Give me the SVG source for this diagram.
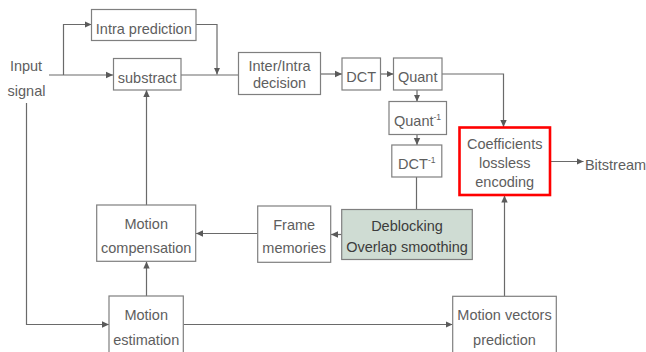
<svg xmlns="http://www.w3.org/2000/svg" width="646" height="352" viewBox="0 0 646 352">
  <style>
    .box { fill: #ffffff; stroke: #7f7f7f; stroke-width: 1.2; }
    .hl { fill: #ffffff; stroke: #ff0000; stroke-width: 2.6; }
    .filt { fill: #cfdcd3; stroke: #7f7f7f; stroke-width: 1.2; }
    .wire { fill: none; stroke: #6a6a6a; stroke-width: 1.2; }
    .arr { marker-end: url(#ah); }
    text { font-family: "Liberation Sans", Arial, sans-serif; font-size: 14.5px; fill: #5e5e5e; text-anchor: middle; }
    .dark { fill: #3c3c3c; }
    .sup { font-size: 8.5px; }
  </style>
  <defs>
    <marker id="ah" markerUnits="userSpaceOnUse" markerWidth="8" markerHeight="8" refX="7" refY="4" orient="auto">
      <path d="M0,0.8 L7,4 L0,7.2 Z" fill="#5a5a5a"/>
    </marker>
  </defs>
  <rect width="646" height="352" fill="#ffffff"/>

  <!-- connectors -->
  <g id="connectors">
    <!-- input signal to subtract and intra prediction -->
    <path class="wire arr" d="M49,75 H113"/>
    <path class="wire arr" d="M63.5,75 V24.5 H91.5"/>
    <!-- intra prediction joins the main path -->
    <path class="wire arr" d="M196,24.5 H217 V74.5"/>
    <path class="wire" d="M181,75 H238.5"/>
    <!-- transform chain -->
    <path class="wire arr" d="M320.5,74 H342"/>
    <path class="wire arr" d="M380.5,74 H393.5"/>
    <path class="wire arr" d="M442,74 H503.5 V127"/>
    <path class="wire arr" d="M417,90 V101.5"/>
    <path class="wire arr" d="M417,134.5 V145"/>
    <path class="wire" d="M416.5,177 V209.5"/>
    <!-- reconstruction loop -->
    <path class="wire arr" d="M341.5,234.5 H331"/>
    <path class="wire arr" d="M257.5,233.5 H196"/>
    <path class="wire arr" d="M146.5,205 V90"/>
    <path class="wire arr" d="M146.5,296 V261.5"/>
    <!-- motion estimation inputs/outputs -->
    <path class="wire arr" d="M26.5,103 V324.5 H109"/>
    <path class="wire arr" d="M183.5,324.5 H452.5"/>
    <path class="wire arr" d="M504.5,296 V195.5"/>
    <!-- entropy coder output -->
    <path class="wire arr" d="M550,161.5 H583.5"/>
  </g>

  <g id="input">
    <text x="26" y="71">Input</text>
    <text x="26.5" y="95.5">signal</text>
  </g>

  <g id="intra-prediction">
    <rect class="box" x="91.5" y="9.5" width="104.5" height="31"/>
    <text x="143.8" y="33.5">Intra prediction</text>
  </g>

  <g id="substract">
    <rect class="box" x="113.5" y="58.5" width="67.5" height="31.5"/>
    <text x="147.2" y="82.8">substract</text>
  </g>

  <g id="inter-intra-decision">
    <rect class="box" x="238.5" y="52.5" width="82" height="42"/>
    <text x="279.5" y="71">Inter/Intra</text>
    <text x="279.5" y="88">decision</text>
  </g>

  <g id="dct">
    <rect class="box" x="342" y="58" width="38.5" height="32"/>
    <text x="361.2" y="82">DCT</text>
  </g>

  <g id="quant">
    <rect class="box" x="393.5" y="58" width="48.5" height="32"/>
    <text x="417.7" y="82">Quant</text>
  </g>

  <g id="inverse-quant">
    <rect class="box" x="389" y="101.5" width="57.5" height="33"/>
    <text x="417.5" y="126.3">Quant<tspan class="sup" dy="-6">-1</tspan></text>
  </g>

  <g id="inverse-dct">
    <rect class="box" x="391.8" y="145" width="50" height="32"/>
    <text x="416.8" y="168.5">DCT<tspan class="sup" dy="-6">-1</tspan></text>
  </g>

  <g id="coefficients-lossless-encoding">
    <rect class="hl" x="459.5" y="127.5" width="90.5" height="67.5"/>
    <text x="504.7" y="148.5">Coefficients</text>
    <text x="504.7" y="167.5">lossless</text>
    <text x="504.7" y="186.7">encoding</text>
  </g>

  <g id="bitstream">
    <text x="615.5" y="169.5">Bitstream</text>
  </g>

  <g id="deblocking">
    <rect class="filt" x="341.7" y="209.5" width="130.6" height="50"/>
    <text class="dark" x="407" y="231">Deblocking</text>
    <text class="dark" x="407" y="251.7">Overlap smoothing</text>
  </g>

  <g id="frame-memories">
    <rect class="box" x="257.7" y="206" width="73" height="56.3"/>
    <text x="294.2" y="230">Frame</text>
    <text x="294.2" y="253.3">memories</text>
  </g>

  <g id="motion-compensation">
    <rect class="box" x="96.7" y="205" width="99" height="56.3"/>
    <text x="146.2" y="229.3">Motion</text>
    <text x="146.2" y="253.3">compensation</text>
  </g>

  <g id="motion-estimation">
    <rect class="box" x="109" y="296" width="74.3" height="64"/>
    <text x="146.2" y="320">Motion</text>
    <text x="146.2" y="345">estimation</text>
  </g>

  <g id="motion-vectors-prediction">
    <rect class="box" x="452.7" y="296.3" width="103.6" height="64"/>
    <text x="504.5" y="320">Motion vectors</text>
    <text x="504.5" y="345">prediction</text>
  </g>
</svg>
